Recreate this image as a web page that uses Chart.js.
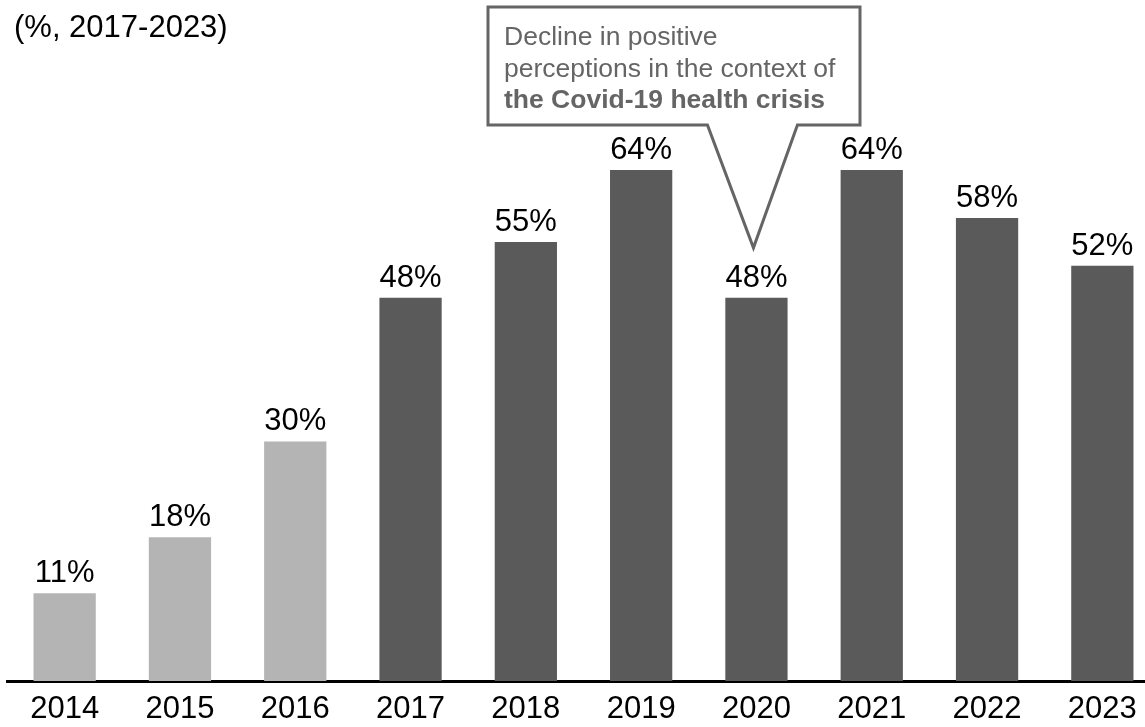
<!DOCTYPE html>
<html>
<head>
<meta charset="utf-8">
<title>Positive perceptions, 2014-2023</title>
<script src="https://cdn.jsdelivr.net/npm/chart.js@4.4.1/dist/chart.umd.min.js"></script>
<style>
  html, body { margin: 0; padding: 0; background: #ffffff; overflow: hidden; }
  #wrap { position: relative; width: 1160px; height: 727px; }
</style>
</head>
<body>
<div id="wrap"><canvas id="chart"></canvas></div>
<script>
// Share of positive perceptions by year (%)
const years = ['2014', '2015', '2016', '2017', '2018', '2019', '2020', '2021', '2022', '2023'];
const shares = [11, 18, 30, 48, 55, 64, 48, 64, 58, 52];
// Years before this one come from the earlier series and are shown lighter
const seriesStartYear = 2017;

const subtitle = '(%, 2017-2023)';
const calloutYear = '2020';
const calloutLines = [
  { text: 'Decline in positive', bold: false },
  { text: 'perceptions in the context of', bold: false },
  { text: 'the Covid-19 health crisis', bold: true }
];

const FONT = '"Liberation Sans", Arial, Helvetica, sans-serif';
const LIGHT = '#b4b4b4';
const DARK = '#5a5a5a';
const CALLOUT = '#656565';

const barColors = years.map(y => (Number(y) < seriesStartYear ? LIGHT : DARK));

// Percentage labels above every bar, plus subtitle and callout box
const overlayPlugin = {
  id: 'overlay',
  afterDatasetsDraw(chart) {
    const ctx = chart.ctx;
    const meta = chart.getDatasetMeta(0);
    ctx.save();
    ctx.fillStyle = '#000000';
    ctx.font = '31px ' + FONT;
    ctx.textAlign = 'center';
    ctx.textBaseline = 'alphabetic';
    meta.data.forEach((bar, i) => {
      ctx.fillText(shares[i] + '%', bar.x, bar.y - 11);
    });

    // subtitle
    ctx.textAlign = 'left';
    ctx.fillText(subtitle, 14, 37);

    // callout pointing at the 2020 label
    const idx = years.indexOf(calloutYear);
    const target = meta.data[idx];
    const tipX = target.x - 3;
    const tipY = target.y - 50;
    const box = { l: 488, t: 7, r: 860, b: 125 };
    ctx.lineWidth = 3;
    ctx.strokeStyle = CALLOUT;
    ctx.fillStyle = '#ffffff';
    ctx.lineJoin = 'miter';
    ctx.beginPath();
    ctx.moveTo(box.l, box.t);
    ctx.lineTo(box.r, box.t);
    ctx.lineTo(box.r, box.b);
    ctx.lineTo(tipX + 44, box.b);
    ctx.lineTo(tipX, tipY);
    ctx.lineTo(tipX - 46, box.b);
    ctx.lineTo(box.l, box.b);
    ctx.closePath();
    ctx.fill();
    ctx.stroke();

    ctx.fillStyle = CALLOUT;
    calloutLines.forEach((line, i) => {
      ctx.font = (line.bold ? 'bold ' : '') + '26.5px ' + FONT;
      ctx.fillText(line.text, 504, 45 + i * 31.5);
    });
    ctx.restore();
  }
};

new Chart(document.getElementById('chart'), {
  type: 'bar',
  data: {
    labels: years,
    datasets: [{
      data: shares,
      backgroundColor: barColors,
      borderWidth: 0,
      barPercentage: 0.54,
      categoryPercentage: 1.0
    }]
  },
  options: {
    responsive: true,
    maintainAspectRatio: false,
    animation: false,
    events: [],
    layout: { padding: { left: 7, right: 0, top: 0, bottom: 0 } },
    plugins: {
      legend: { display: false },
      tooltip: { enabled: false },
      title: { display: false }
    },
    scales: {
      x: {
        grid: { display: false, drawTicks: false },
        border: { display: true, color: '#000000', width: 3 },
        ticks: {
          color: '#000000',
          font: { family: FONT, size: 31, lineHeight: 1 },
          padding: 13,
          maxRotation: 0,
          autoSkip: false
        },
        afterFit(scale) { scale.height = 46; }
      },
      y: {
        display: false,
        min: 0,
        max: 85.3
      }
    }
  },
  plugins: [overlayPlugin]
});
</script>
</body>
</html>
